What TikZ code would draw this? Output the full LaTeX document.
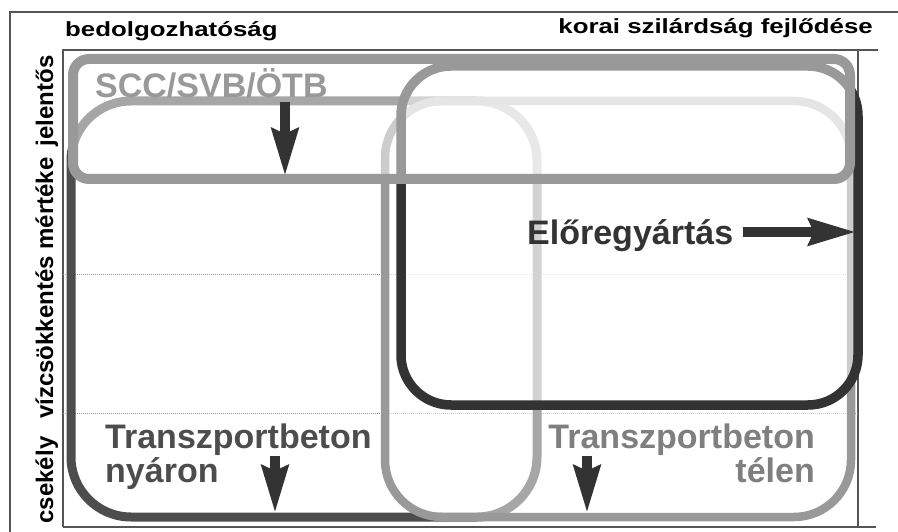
\documentclass[tikz,border=0pt]{standalone}
\usepackage{fontspec}
\setmainfont{Liberation Sans}
\newfontfamily\headfont[FakeStretch=1.26]{Liberation Sans}
\usepackage{tikz}
\usetikzlibrary{positioning,arrows.meta}
\definecolor{darkc}{HTML}{333333}
\definecolor{nyaronc}{HTML}{4d4d4d}
\definecolor{midc}{HTML}{999999}
\definecolor{telenc}{HTML}{7f7f7f}
\definecolor{framec}{HTML}{555555}

\begin{document}
\begin{tikzpicture}[x=1pt, y=-1pt,
    framel/.style={draw=framec, line width=1.2pt},
    gridl/.style={draw=midc, line width=0.6pt, dash pattern=on 1pt off 1pt},
    zone/.style={inner sep=0pt, outer sep=0pt, minimum width=466pt, minimum height=416pt},
    veil/.style={fill=white, fill opacity=0.5},
    headlbl/.style={inner sep=0pt, font=\headfont\bfseries\fontsize{20.5}{22}\selectfont},
    axislbl/.style={inner sep=0pt, rotate=90, anchor=base, font=\bfseries\fontsize{24}{24}\selectfont},
    biglbl/.style={inner sep=0pt, font=\bfseries\fontsize{34}{34}\selectfont},
    bigarrow/.style={draw=darkc, line width=10pt, -{Stealth[length=47pt, width=26pt, inset=5pt]}}]
  \useasboundingbox (0,0) rectangle (898,532);

  % Frame and axes
  \draw[framel] (10,532) -- (10,12) -- (898,12);
  \draw[framel] (63,527) -- (63,50) -- (878,50);
  \draw[framel] (63,527) -- (876,527);
  \draw[framel] (858,50) -- (858,527);
  \foreach \y in {274,413} {
    \draw[gridl] (63,\y) -- (858,\y);
  }

  % Axis labels
  \node[headlbl, anchor=base west] (bedolg) at (65,37) {bedolgozhatóság};
  \node[headlbl, anchor=base east] (korai) at (873,34) {korai szilárdság fejlődése};
  \node[axislbl] (csekely) at (53,480) {csekély};
  \node[axislbl] (vizcs) at (53,288) {vízcsökkentés mértéke};
  \node[axislbl] (jelentos) at (53,101) {jelentős};

  % Zones (later ones veil the earlier lines)
  \node[zone, draw=nyaronc, line width=9pt, rounded corners=60pt] (nyaron) at (304,309) {};
  \node[zone, veil, draw=midc, line width=8.5pt, rounded corners=57pt] (telen) at (618,309) {};
  \node[zone, veil, draw=darkc, line width=9.5pt, rounded corners=50pt,
        minimum width=457pt, minimum height=339pt] (elore) at (629.5,235.5) {};
  \node[zone, veil, draw=midc, line width=10pt, rounded corners=16pt,
        minimum width=777pt, minimum height=120pt] (scc) at (461.5,119) {};

  % Zone labels
  \node[biglbl, text=midc, anchor=base west] (scclbl) at (95,98) {SCC/SVB/ÖTB};
  \node[biglbl, text=darkc, anchor=base west] (elorelbl) at (527,245) {Előregyártás};
  \node[biglbl, text=nyaronc, anchor=base west] (nyaronlbl) at (105,448) {Transzportbeton};
  \node[biglbl, text=nyaronc, anchor=base west] (nyaronlblb) at (105,482) {nyáron};
  \node[biglbl, text=telenc, anchor=base east] (telenlbl) at (815,448) {Transzportbeton};
  \node[biglbl, text=telenc, anchor=base east] (telenlblb) at (815,482) {télen};

  % Arrows
  \coordinate (sccfrom) at (285,102);
  \coordinate (sccto) at (285,176);
  \coordinate (elorefrom) at (743,232);
  \coordinate (eloreto) at (856,232);
  \coordinate (nyaronfrom) at (275,456);
  \coordinate (nyaronto) at (275,513);
  \coordinate (telenfrom) at (587,456);
  \coordinate (telento) at (587,513);
  \draw[bigarrow] (sccfrom) -- (sccto);
  \draw[bigarrow] (elorefrom) -- (eloreto);
  \draw[bigarrow] (nyaronfrom) -- (nyaronto);
  \draw[bigarrow] (telenfrom) -- (telento);
\end{tikzpicture}
\end{document}
